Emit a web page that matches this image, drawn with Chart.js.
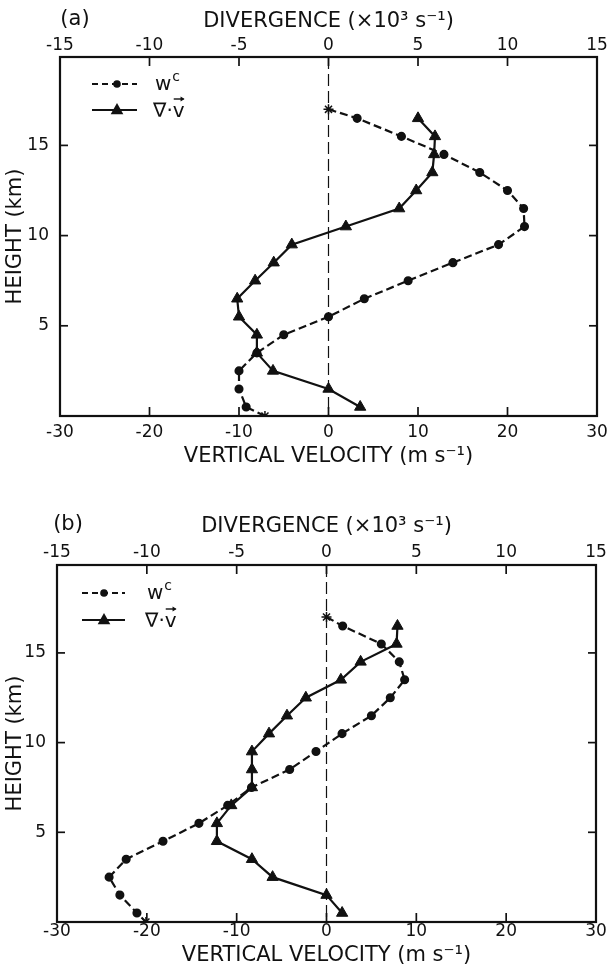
<!DOCTYPE html>
<html><head><meta charset="utf-8">
<script src="https://cdn.jsdelivr.net/npm/chart.js@4/dist/chart.umd.min.js"></script>
<style>
html,body{margin:0;padding:0;background:#fff;}
#wrap{position:relative;width:608px;height:973px;overflow:hidden;}
.pane{position:absolute;left:0;width:608px;}
canvas{display:block;}
</style></head><body>
<div id="wrap">
<div class="pane" style="top:0;height:480px"><canvas id="ca" width="608" height="480"></canvas></div>
<div class="pane" style="top:480px;height:493px"><canvas id="cb" width="608" height="493"></canvas></div>
</div>
<script>
// ---- data (heights in km, vertical velocity in m/s, divergence in 10^-3 s^-1) ----
const heightsW = [17, 16.5, 15.5, 14.5, 13.5, 12.5, 11.5, 10.5, 9.5, 8.5, 7.5, 6.5, 5.5, 4.5, 3.5, 2.5, 1.5, 0.5, 0];
const heightsD = [16.5, 15.5, 14.5, 13.5, 12.5, 11.5, 10.5, 9.5, 8.5, 7.5, 6.5, 5.5, 4.5, 3.5, 2.5, 1.5, 0.5];
const wcA  = [0, 3.2, 8.15, 12.9, 16.9, 20.0, 21.8, 21.9, 19.0, 13.9, 8.9, 4.0, 0, -5.0, -8.0, -10.0, -10.0, -9.2, -7.1];
const divA = [5.0, 5.95, 5.9, 5.8, 4.9, 3.95, 0.97, -2.05, -3.06, -4.1, -5.1, -5.0, -4.0, -4.0, -3.1, 0, 1.77];
const wcB  = [0, 1.8, 6.1, 8.1, 8.7, 7.1, 5.0, 1.73, -1.17, -4.1, -8.35, -11.0, -14.2, -18.2, -22.3, -24.2, -23.0, -21.1, -20.1];
const divB = [3.95, 3.9, 1.9, 0.8, -1.15, -2.2, -3.2, -4.15, -4.15, -4.15, -5.3, -6.1, -6.1, -4.15, -3.0, 0, 0.87];
const velRange = [-30, 30], velStep = 10;
const divRange = [-15, 15], divStep = 5;
const heightTicks = [5, 10, 15];
const heightMax = 19.9;
const labelsText = {
  top: 'DIVERGENCE (\u00d710\u00b3 s\u207b\u00b9)',
  bottom: 'VERTICAL VELOCITY (m s\u207b\u00b9)',
  left: 'HEIGHT (km)',
  w: 'w', wsup: 'c', div: '\u2207\u00b7v'
};

const INK = '#111';
const FONT = "'DejaVu Sans', sans-serif";
Chart.defaults.font.family = FONT;
Chart.defaults.color = INK;

function drawTri(ctx, x, y, r) {
  ctx.beginPath();
  ctx.moveTo(x, y - r);
  ctx.lineTo(x + r * 0.9, y + r * 0.6);
  ctx.lineTo(x - r * 0.9, y + r * 0.6);
  ctx.closePath();
  ctx.fill();
}

const framePlugin = {
  id: 'frame',
  beforeDatasetsDraw(chart) {
    const {ctx, chartArea: a, scales} = chart;
    const x0 = scales.x.getPixelForValue(0);
    ctx.save();
    ctx.strokeStyle = INK; ctx.lineWidth = 1.2;
    ctx.setLineDash([12, 5]);
    ctx.beginPath(); ctx.moveTo(x0, a.top); ctx.lineTo(x0, a.bottom); ctx.stroke();
    ctx.restore();
  },
  afterDatasetsDraw(chart, args, o) {
    const {ctx, chartArea: a, scales} = chart;
    ctx.save();
    ctx.strokeStyle = INK; ctx.fillStyle = INK;
    ctx.lineWidth = 2.2;
    ctx.strokeRect(a.left, a.top, a.right - a.left, a.bottom - a.top);
    ctx.lineWidth = 1.7;
    const seg = (x1, y1, x2, y2) => { ctx.beginPath(); ctx.moveTo(x1, y1); ctx.lineTo(x2, y2); ctx.stroke(); };
    scales.x.ticks.forEach(t => {
      if (t.value <= scales.x.min || t.value >= scales.x.max) return;
      const p = scales.x.getPixelForValue(t.value); seg(p, a.bottom, p, a.bottom - 9);
    });
    scales.x2.ticks.forEach(t => {
      if (t.value <= scales.x2.min || t.value >= scales.x2.max) return;
      const p = scales.x2.getPixelForValue(t.value); seg(p, a.top, p, a.top + 9);
    });
    scales.y.ticks.forEach(t => {
      const p = scales.y.getPixelForValue(t.value);
      seg(a.left, p, a.left + 8, p); seg(a.right, p, a.right - 8, p);
    });
    // panel letter
    ctx.font = '21px ' + FONT; ctx.textAlign = 'center'; ctx.textBaseline = 'middle';
    ctx.fillText(o.letter, o.letterX, o.letterY);
    // legend
    const lx1 = a.left + o.legX1, lx2 = a.left + o.legX2, lc = a.left + o.legC;
    const r1 = a.top + o.row1, r2 = a.top + o.row2;
    ctx.lineWidth = 2.2;
    ctx.setLineDash([6, 4]);
    seg(lx1, r1, lx2, r1);
    ctx.setLineDash([]);
    ctx.beginPath(); ctx.arc(lc, r1, 3.8, 0, Math.PI * 2); ctx.fill();
    seg(lx1, r2, lx2, r2);
    drawTri(ctx, lc, r2, 7);
    ctx.textAlign = 'left'; ctx.textBaseline = 'alphabetic';
    const tx = a.left + o.legText;
    ctx.font = '20px ' + FONT;
    ctx.fillText(labelsText.w, tx, r1 + 6);
    const ww = ctx.measureText(labelsText.w).width;
    ctx.font = '14px ' + FONT;
    ctx.fillText(labelsText.wsup, tx + ww + 1, r1 - 3);
    ctx.font = '20px ' + FONT;
    ctx.fillText(labelsText.div, tx - 2, r2 + 7);
    const wFull = ctx.measureText(labelsText.div).width;
    const wV = ctx.measureText('v').width;
    const ax1 = tx - 2 + wFull - wV + 1, ax2 = tx - 2 + wFull - 1, ay = r2 - 11;
    ctx.lineWidth = 1.4;
    seg(ax1, ay, ax2, ay);
    ctx.beginPath(); ctx.moveTo(ax2 + 1, ay); ctx.lineTo(ax2 - 3, ay - 2.5); ctx.lineTo(ax2 - 3, ay + 2.5); ctx.closePath(); ctx.fill();
    ctx.restore();
  }
};

function makeChart(id, wc, div, L) {
  const wcPts = heightsW.map((h, i) => ({x: wc[i], y: h}));
  const divPts = heightsD.map((h, i) => ({x: div[i], y: h}));
  const styles = heightsW.map((h, i) => (i === 0 || i === heightsW.length - 1) ? 'star' : 'circle');
  const radii = heightsW.map((h, i) => (i === 0 || i === heightsW.length - 1) ? 5 : 3.8);
  return new Chart(document.getElementById(id), {
    type: 'scatter',
    data: {
      datasets: [
        {label: 'wc', data: wcPts, xAxisID: 'x', yAxisID: 'y', showLine: true,
         borderColor: INK, backgroundColor: INK, borderWidth: 2.2, borderDash: [8, 4],
         pointStyle: styles, pointRadius: radii, pointBorderWidth: 1.5,
         pointBackgroundColor: INK, pointBorderColor: INK},
        {label: 'div', data: divPts, xAxisID: 'x2', yAxisID: 'y', showLine: true,
         borderColor: INK, backgroundColor: INK, borderWidth: 2.2,
         pointStyle: 'triangle', pointRadius: 6.5, pointBorderWidth: 1,
         pointBackgroundColor: INK, pointBorderColor: INK}
      ]
    },
    options: {
      responsive: false, animation: false, devicePixelRatio: 1,
      layout: {padding: {left: 0, right: L.right, top: 0, bottom: 0}},
      plugins: {legend: {display: false}, tooltip: {enabled: false}, frame: L.frame},
      scales: {
        x: {type: 'linear', position: 'bottom', min: velRange[0], max: velRange[1],
            grid: {display: false}, border: {display: false},
            ticks: {stepSize: velStep, font: {size: 17}, color: INK, padding: L.bTickPad, maxRotation: 0,
                    callback: v => String(v)},
            title: {display: true, text: labelsText.bottom, font: {size: 21}, color: INK,
                    padding: {top: 0, bottom: L.bTitlePad}},
            afterFit: s => { s.height = L.bH; s.paddingLeft = 0; s.paddingRight = 0; }},
        x2: {type: 'linear', position: 'top', min: divRange[0], max: divRange[1],
            grid: {display: false}, border: {display: false},
            ticks: {stepSize: divStep, font: {size: 17}, color: INK, padding: L.tTickPad, maxRotation: 0,
                    callback: v => String(v)},
            title: {display: true, text: labelsText.top, font: {size: 21}, color: INK,
                    padding: {top: L.tTitlePad, bottom: 0}},
            afterFit: s => { s.height = L.tH; s.paddingLeft = 0; s.paddingRight = 0; }},
        y: {type: 'linear', position: 'left', min: 0, max: heightMax,
            grid: {display: false}, border: {display: false},
            afterBuildTicks: s => { s.ticks = heightTicks.map(v => ({value: v})); },
            ticks: {font: {size: 17}, color: INK, padding: 3, callback: v => String(v)},
            title: {display: true, text: labelsText.left, font: {size: 21}, color: INK,
                    padding: {top: 3, bottom: 0}},
            afterFit: s => { s.width = L.lW; }}
      }
    },
    plugins: [framePlugin]
  });
}

makeChart('ca', wcA, divA, {
  right: 11, bH: 64, tH: 57, lW: 60,
  bTickPad: -1.6, bTitlePad: 10.4, tTickPad: -7.2, tTitlePad: 9.4,
  frame: {letter: '(a)', letterX: 75, letterY: 20, legX1: 32, legX2: 77, legC: 57, legText: 95, row1: 27, row2: 53}
});
makeChart('cb', wcB, divB, {
  right: 12, bH: 51, tH: 85, lW: 57,
  bTickPad: -8.9, bTitlePad: 4.4, tTickPad: -6.2, tTitlePad: 34.4,
  frame: {letter: '(b)', letterX: 68, letterY: 45, legX1: 25, legX2: 68, legC: 47, legText: 90, row1: 28, row2: 55}
});
</script>
</body></html>
